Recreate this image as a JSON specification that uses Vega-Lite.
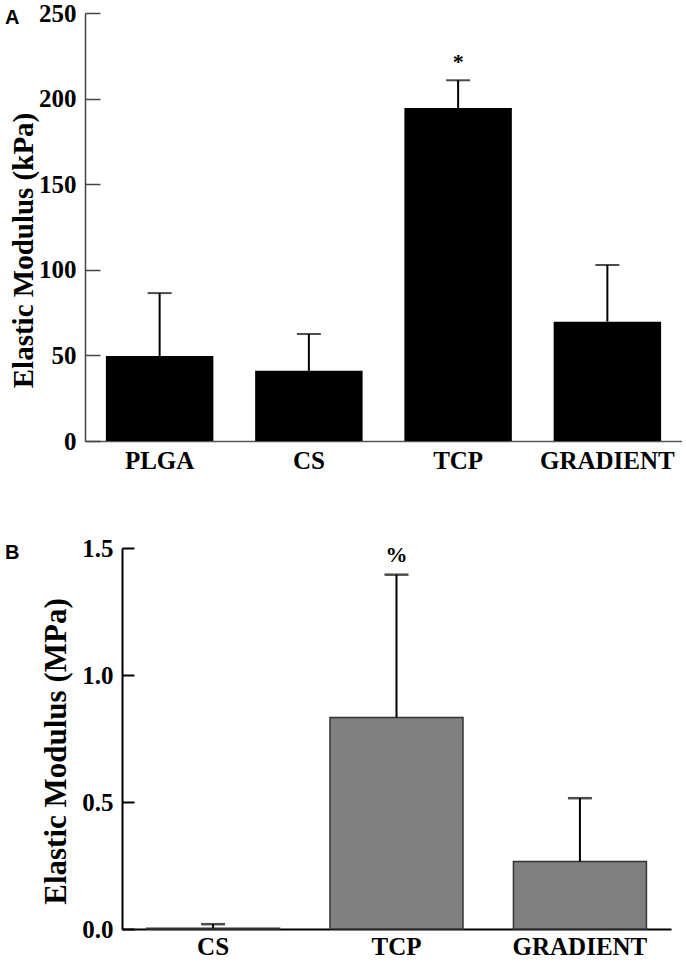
{
  "$schema": "https://vega.github.io/schema/vega-lite/v6.json",
  "background": "white",
  "padding": {"left": 5, "top": 1, "right": 0, "bottom": 0},
  "spacing": 63,
  "config": {
    "view": {"stroke": null},
    "axis": {
      "labelFont": "Liberation Serif",
      "labelFontWeight": "bold",
      "labelFontSize": 25,
      "labelColor": "black",
      "titleFont": "Liberation Serif",
      "titleFontWeight": "bold",
      "titleColor": "black",
      "grid": false
    }
  },
  "vconcat": [
    {
      "title": {"text": "A", "anchor": "start", "frame": "group", "dx": -80, "dy": 27, "offset": 0, "font": "Liberation Sans", "fontWeight": "bold", "fontSize": 20, "color": "black"},
      "width": 597,
      "height": 428,
      "data": {
        "values": [
          {"group": "PLGA", "mean": 49.6, "upper": 86.4, "sig": ""},
          {"group": "CS", "mean": 41, "upper": 62.5, "sig": ""},
          {"group": "TCP", "mean": 194.5, "upper": 210.7, "sig": "*"},
          {"group": "GRADIENT", "mean": 69.7, "upper": 102.8, "sig": ""}
        ]
      },
      "encoding": {
        "x": {
          "field": "group", "type": "nominal", "sort": null,
          "scale": {"paddingInner": 0.28, "paddingOuter": 0.14},
          "axis": {"title": null, "ticks": false, "labelAngle": 0, "labelPadding": 7, "domainColor": "#555", "domainWidth": 1.5}
        }
      },
      "layer": [
        {
          "mark": {"type": "bar", "color": "black"},
          "encoding": {
            "y": {
              "field": "mean", "type": "quantitative",
              "scale": {"domain": [0, 250], "nice": false},
              "axis": {
                "title": "Elastic Modulus (kPa)", "titleFontSize": 29,
                "titleX": -53, "titleY": 237, "titleBaseline": "alphabetic",
                "values": [0, 50, 100, 150, 200, 250],
                "tickSize": -15, "tickColor": "#444", "tickWidth": 1.5, "labelPadding": 24,
                "domainColor": "#444", "domainWidth": 1.5
              }
            }
          }
        },
        {
          "mark": {"type": "rule", "color": "black", "strokeWidth": 2},
          "encoding": {"y": {"field": "mean", "type": "quantitative"}, "y2": {"field": "upper"}}
        },
        {
          "mark": {"type": "tick", "orient": "horizontal", "color": "black", "size": 24, "thickness": 2},
          "encoding": {"y": {"field": "upper", "type": "quantitative"}}
        },
        {
          "mark": {"type": "text", "font": "Liberation Serif", "fontWeight": "bold", "fontSize": 22, "baseline": "alphabetic", "dy": -11},
          "encoding": {"y": {"field": "upper", "type": "quantitative"}, "text": {"field": "sig"}}
        }
      ]
    },
    {
      "title": {"text": "B", "anchor": "start", "frame": "group", "dx": -80, "dy": 27, "offset": 0, "font": "Liberation Sans", "fontWeight": "bold", "fontSize": 20, "color": "black"},
      "width": 586,
      "height": 381,
      "data": {
        "values": [
          {"group": "CS", "mean": 0.003, "upper": 0.019, "sig": ""},
          {"group": "TCP", "mean": 0.833, "upper": 1.395, "sig": "%"},
          {"group": "GRADIENT", "mean": 0.266, "upper": 0.515, "sig": ""}
        ]
      },
      "encoding": {
        "x": {
          "field": "group", "type": "nominal", "sort": null,
          "scale": {"range": [37, 586], "paddingInner": 0.275, "paddingOuter": 0.134},
          "axis": {"title": null, "ticks": false, "labelAngle": 0, "labelPadding": 5, "domainColor": "black", "domainWidth": 2}
        }
      },
      "layer": [
        {
          "mark": {"type": "bar", "fill": "#808080", "stroke": "#333333", "strokeWidth": 1.5},
          "encoding": {
            "y": {
              "field": "mean", "type": "quantitative",
              "scale": {"domain": [0, 1.5], "nice": false},
              "axis": {
                "title": "Elastic Modulus (MPa)", "titleFontSize": 31,
                "titleX": -57, "titleY": 203, "titleBaseline": "alphabetic",
                "offset": -37,
                "values": [0, 0.5, 1, 1.5], "format": ".1f",
                "tickSize": -12, "tickColor": "black", "tickWidth": 2, "labelPadding": 21,
                "domainColor": "black", "domainWidth": 2
              }
            }
          }
        },
        {
          "mark": {"type": "rule", "color": "black", "strokeWidth": 2},
          "encoding": {"y": {"field": "mean", "type": "quantitative"}, "y2": {"field": "upper"}}
        },
        {
          "mark": {"type": "tick", "orient": "horizontal", "color": "black", "size": 24, "thickness": 2.5},
          "encoding": {"y": {"field": "upper", "type": "quantitative"}}
        },
        {
          "mark": {"type": "text", "font": "Liberation Serif", "fontWeight": "bold", "fontSize": 22, "baseline": "alphabetic", "dy": -13},
          "encoding": {"y": {"field": "upper", "type": "quantitative"}, "text": {"field": "sig"}}
        }
      ]
    }
  ]
}
